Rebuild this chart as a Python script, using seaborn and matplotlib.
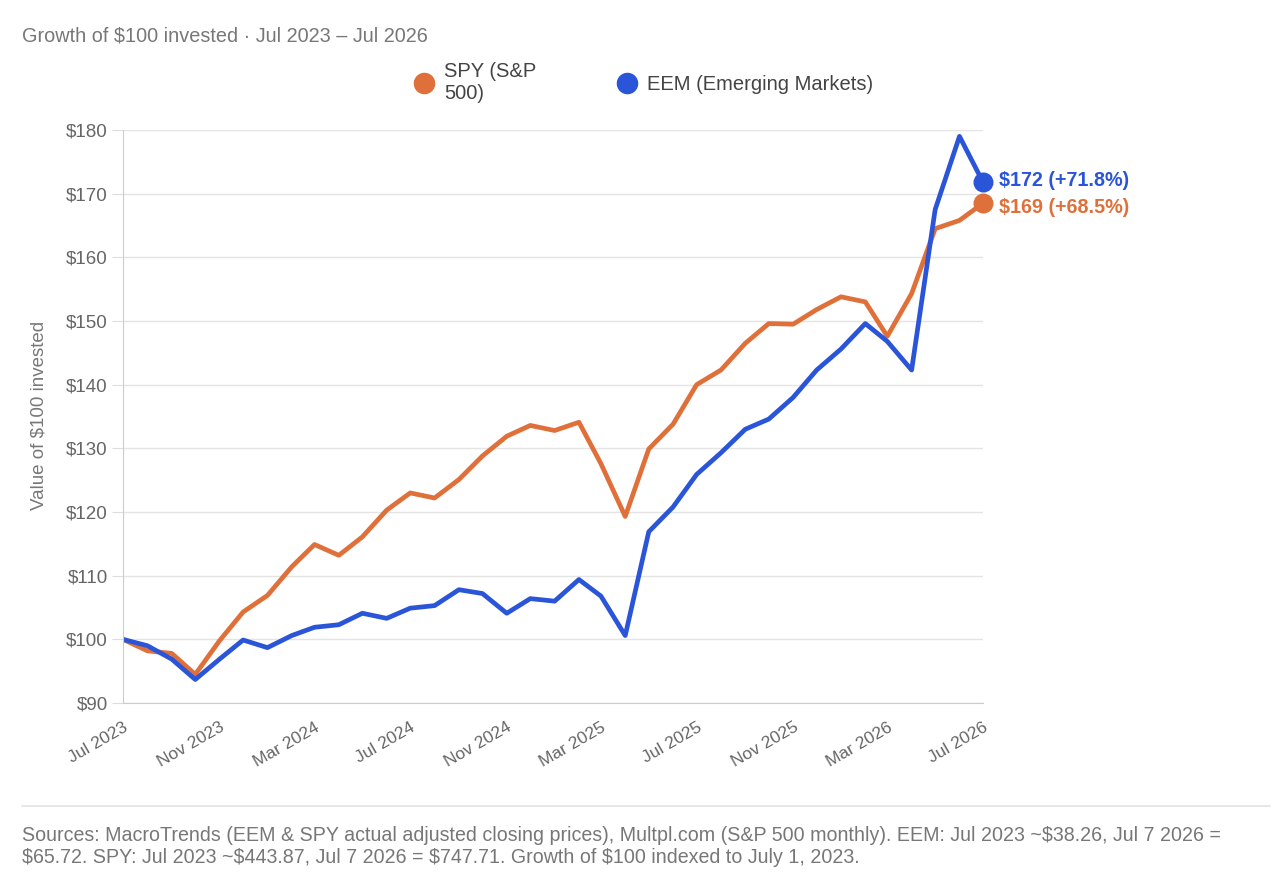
import pandas as pd
import matplotlib.pyplot as plt
import matplotlib.dates as mdates
import seaborn as sns

# Monthly index values, growth of $100 (Jul 2023 - Jul 2026)
months = pd.date_range("2023-07-01", "2026-07-01", freq="MS")
spy = [100, 98.2, 97.8, 94.5, 99.8, 104.3, 106.9, 111.4, 114.9, 113.2,
       116.1, 120.3, 123.0, 122.2, 125.1, 128.8, 131.9, 133.6, 132.8, 134.1,
       127.6, 119.3, 129.9, 133.8, 140.0, 142.3, 146.5, 149.6, 149.5, 151.8,
       153.8, 153.0, 147.6, 154.3, 164.5, 165.8, 168.5]
eem = [100, 99.0, 96.9, 93.7, 96.9, 99.9, 98.7, 100.6, 101.9, 102.3,
       104.1, 103.3, 104.9, 105.3, 107.8, 107.2, 104.1, 106.4, 106.0, 109.4,
       106.8, 100.6, 116.9, 120.8, 125.9, 129.3, 133.0, 134.6, 138.0, 142.3,
       145.6, 149.6, 146.8, 142.3, 167.5, 179.0, 171.8]
series_names = ["SPY (S&P\n500)", "EEM (Emerging Markets)"]
end_labels = ["$169 (+68.5%)", "$172 (+71.8%)"]
colors = ["#E0703A", "#2B55D9"]

df = pd.concat([
    pd.DataFrame({"month": months, "value": spy, "series": series_names[0]}),
    pd.DataFrame({"month": months, "value": eem, "series": series_names[1]}),
])

sns.set_style("white")
plt.rcParams["font.family"] = ["Liberation Sans", "DejaVu Sans"]
plt.rcParams["text.parse_math"] = False

fig = plt.figure(figsize=(12.74, 8.94), dpi=100)
ax = fig.add_axes([0.0966, 0.2136, 0.675, 0.641])

sns.lineplot(data=df, x="month", y="value", hue="series",
             palette=dict(zip(series_names, colors)), linewidth=3.4,
             legend=False, ax=ax, solid_joinstyle="round", solid_capstyle="round")

# end dots + labels
for vals, col, lab, dy in zip([spy, eem], colors, end_labels, [-3, 1]):
    ax.scatter([months[-1]], [vals[-1]], s=180, color=col, zorder=5, clip_on=False)
    ax.annotate(lab, (months[-1], vals[-1]), xytext=(11.5, dy), textcoords="offset points",
                color=col, fontsize=14.2, fontweight="bold", va="center", ha="left",
                annotation_clip=False)

ax.set_xlim(months[0], months[-1])
ax.set_ylim(90, 180)
ax.set_yticks(range(90, 181, 10))
ax.set_yticklabels([f"${v}" for v in range(90, 181, 10)])
ax.xaxis.set_major_locator(mdates.MonthLocator(bymonth=[3, 7, 11]))
ax.xaxis.set_major_formatter(mdates.DateFormatter("%b %Y"))
plt.setp(ax.get_xticklabels(), rotation=30, ha="right", rotation_mode="anchor")

ax.grid(axis="y", color="#e4e4e4", linewidth=1)
ax.set_axisbelow(True)
for s in ["top", "right"]:
    ax.spines[s].set_visible(False)
for s in ["left", "bottom"]:
    ax.spines[s].set_color("#cccccc")
ax.tick_params(axis="y", colors="#dddddd", labelcolor="#666666", labelsize=13.5,
               length=8, left=True, pad=3)
ax.tick_params(axis="x", colors="#cccccc", labelcolor="#666666", labelsize=12.5,
               length=0, pad=12)
ax.set_xlabel("")
ax.set_ylabel("")
fig.text(0.031, 0.535, "Value of $100 invested", rotation=90, color="#777777",
         fontsize=13.5, ha="center", va="center")

# title
fig.text(0.017, 0.96, "Growth of $100 invested \u00b7 Jul 2023 \u2013 Jul 2026",
         color="#777777", fontsize=14.3, ha="left", va="center")

# legend
handles = [plt.Line2D([], [], marker="o", linestyle="", markersize=14.5, color=c) for c in colors]
fig.legend(handles, series_names, loc="center", bbox_to_anchor=(0.505, 0.908), ncol=2,
           frameon=False, fontsize=14.5, handletextpad=0.5, columnspacing=4.0,
           labelcolor="#444444", handlelength=1.0, labelspacing=0.2)

# footer
fig.add_artist(plt.Line2D([0.017, 0.997], [0.0984, 0.0984], color="#e2e2e2", linewidth=1.2))
fig.text(0.017, 0.053,
         "Sources: MacroTrends (EEM & SPY actual adjusted closing prices), Multpl.com (S&P 500 monthly). "
         "EEM: Jul 2023 ~$38.26, Jul 7 2026 =\n"
         "$65.72. SPY: Jul 2023 ~$443.87, Jul 7 2026 = $747.71. Growth of $100 indexed to July 1, 2023.",
         color="#777777", fontsize=14.1, ha="left", va="center", linespacing=1.2)

fig.savefig("out.png", dpi=100)
